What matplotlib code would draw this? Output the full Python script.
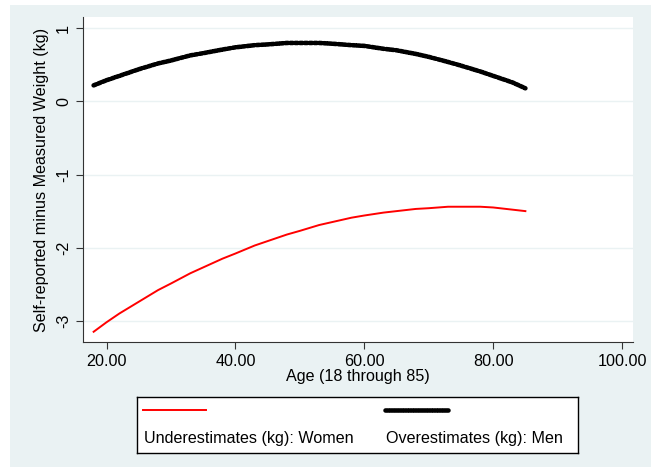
import matplotlib.pyplot as plt
from matplotlib.lines import Line2D

plt.rcParams['font.family'] = ['Liberation Sans', 'DejaVu Sans']

# Datos
age = [18, 20, 22, 25, 28, 30, 33, 35, 38, 40, 43, 45, 48, 50,
       53, 55, 58, 60, 63, 65, 68, 70, 73, 75, 78, 80, 83, 85]
men = [0.22, 0.29, 0.35, 0.44, 0.52, 0.56, 0.63, 0.66, 0.71, 0.74, 0.77, 0.78, 0.80, 0.80,
       0.80, 0.79, 0.77, 0.76, 0.72, 0.70, 0.65, 0.61, 0.54, 0.49, 0.41, 0.35, 0.26, 0.18]
women = [-3.15, -3.02, -2.90, -2.74, -2.58, -2.49, -2.35, -2.27, -2.15, -2.08, -1.97, -1.91, -1.82, -1.77,
         -1.69, -1.65, -1.59, -1.56, -1.52, -1.50, -1.47, -1.46, -1.44, -1.44, -1.44, -1.45, -1.48, -1.50]
xticks = [20, 40, 60, 80, 100]
yticks = [1, 0, -1, -2, -3]

bg = '#eaf2f3'
fs = 11.6
fig = plt.figure(figsize=(6.51, 4.67), dpi=100)
fig.patch.set_facecolor('white')
# fondo gris azulado estilo Stata
fig.patches.append(plt.Rectangle((10 / 651, 0), 641 / 651, 462 / 467, transform=fig.transFigure,
                                 facecolor=bg, edgecolor='none', zorder=-10))

ax = fig.add_axes([83 / 651, 1 - 342 / 467, 550 / 651, 325 / 467])
ax.set_facecolor('white')
ax.plot(age, women, color='red', lw=1.4)
ax.plot(age, men, color='black', lw=3.3, linestyle=(0, (0.6, 0.45)), dash_capstyle='round')

ax.set_xlim(16.35, 101.7)
ax.set_ylim(-3.29, 1.155)
ax.set_xticks(xticks)
ax.set_xticklabels([f'{v:.2f}' for v in xticks])
ax.set_yticks(yticks)
ax.set_yticklabels([str(v) for v in yticks], rotation=90, va='center')
ax.grid(axis='y', color=bg, lw=1)
ax.set_axisbelow(True)
for s in ['top', 'right']:
    ax.spines[s].set_visible(False)
for s in ['left', 'bottom']:
    ax.spines[s].set_color('#333333')
ax.tick_params(direction='out', length=5, labelsize=fs, color='#333333')
ax.set_xlabel('Age (18 through 85)', fontsize=fs, labelpad=0)
ax.set_ylabel('Self-reported minus Measured Weight (kg)', fontsize=fs, labelpad=5)

# Leyenda estilo Stata
lg = fig.add_axes([137 / 651, 1 - 453 / 467, 441 / 651, 56 / 467])
lg.set_xlim(0, 441)
lg.set_ylim(56, 0)
lg.set_xticks([])
lg.set_yticks([])
for s in lg.spines.values():
    s.set_color('black')
    s.set_linewidth(1)
lg.add_line(Line2D([6, 69], [13, 13], color='red', lw=1.4))
lg.add_line(Line2D([248, 311], [13, 13], color='black', lw=3.3, linestyle=(0, (0.6, 0.45)),
                   dash_capstyle='round'))
lg.text(7, 41, 'Underestimates (kg): Women', fontsize=fs, va='center')
lg.text(249, 41, 'Overestimates (kg): Men', fontsize=fs, va='center')

fig.savefig('out.png', dpi=100, facecolor=fig.get_facecolor())
